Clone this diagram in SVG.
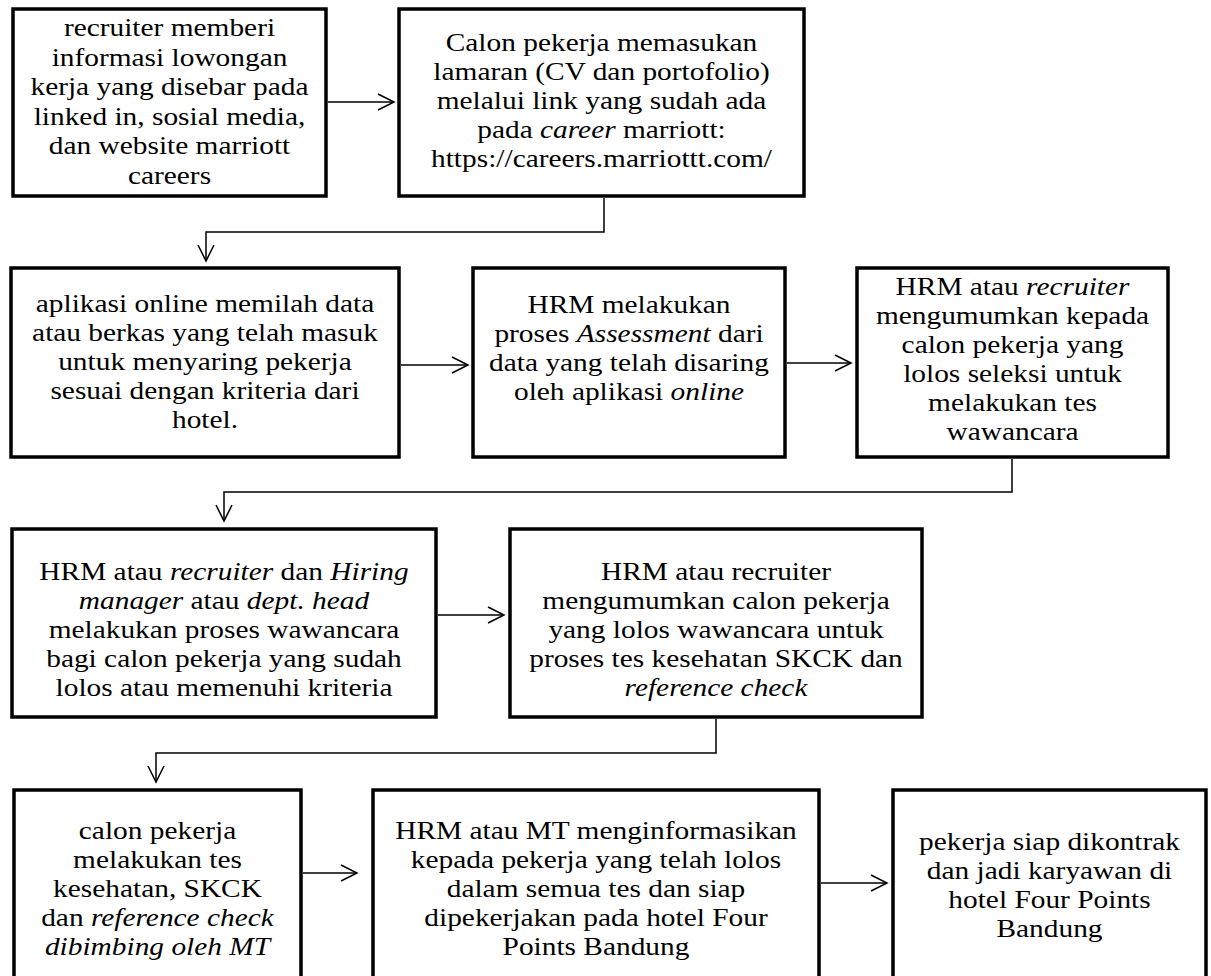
<svg xmlns="http://www.w3.org/2000/svg" width="1211" height="976" viewBox="0 0 1211 976">
<defs>
<style>
.box{fill:#fff;stroke:#000;stroke-width:3.5}
.t{font-family:"Liberation Serif","Times New Roman",serif;font-size:26px;fill:#000;text-anchor:middle}
.i{font-style:italic}
.c{fill:none;stroke:#000;stroke-width:1.5}
</style>
<marker id="ah" viewBox="0 0 20 20" refX="18" refY="10" markerWidth="20" markerHeight="20" markerUnits="userSpaceOnUse" orient="auto">
<path d="M2,2 L18,10 L2,18" fill="none" stroke="#000" stroke-width="1.5"/>
</marker>
</defs>
<rect width="1211" height="976" fill="#fff"/>
<g id="connectors">
<line class="c" x1="328" y1="102" x2="394" y2="102" marker-end="url(#ah)"/>
<polyline class="c" points="604,198 604,232 206,232 206,261" marker-end="url(#ah)"/>
<line class="c" x1="401" y1="365" x2="468" y2="365" marker-end="url(#ah)"/>
<line class="c" x1="787" y1="363" x2="851" y2="363" marker-end="url(#ah)"/>
<polyline class="c" points="1012,459 1012,492 224,492 224,521" marker-end="url(#ah)"/>
<line class="c" x1="438" y1="615" x2="504" y2="615" marker-end="url(#ah)"/>
<polyline class="c" points="716,719 716,753 156,753 156,782" marker-end="url(#ah)"/>
<line class="c" x1="303" y1="873" x2="357" y2="873" marker-end="url(#ah)"/>
<line class="c" x1="821" y1="883" x2="887" y2="883" marker-end="url(#ah)"/>
</g>
<g id="n1">
<rect class="box" x="13" y="9" width="313" height="187"/>
<g transform="translate(169.5 0) scale(1.13 1)">
<text class="t" x="0" y="36">recruiter memberi</text>
<text class="t" x="0" y="66">informasi lowongan</text>
<text class="t" x="0" y="95">kerja yang disebar pada</text>
<text class="t" x="0" y="125">linked in, sosial media,</text>
<text class="t" x="0" y="154">dan website marriott</text>
<text class="t" x="0" y="184">careers</text>
</g>
</g>
<g id="n2">
<rect class="box" x="399" y="9" width="405" height="187"/>
<g transform="translate(601.5 0) scale(1.13 1)">
<text class="t" x="0" y="51">Calon pekerja memasukan</text>
<text class="t" x="0" y="80">lamaran (CV dan portofolio)</text>
<text class="t" x="0" y="109">melalui link yang sudah ada</text>
<text class="t" x="0" y="138">pada <tspan class="i">career</tspan> marriott:</text>
<text class="t" x="0" y="167">https://careers.marriottt.com/</text>
</g>
</g>
<g id="n3">
<rect class="box" x="11" y="268" width="388" height="189"/>
<g transform="translate(205 0) scale(1.13 1)">
<text class="t" x="0" y="312">aplikasi online memilah data</text>
<text class="t" x="0" y="341">atau berkas yang telah masuk</text>
<text class="t" x="0" y="370">untuk menyaring pekerja</text>
<text class="t" x="0" y="399">sesuai dengan kriteria dari</text>
<text class="t" x="0" y="428">hotel.</text>
</g>
</g>
<g id="n4">
<rect class="box" x="473" y="268" width="312" height="189"/>
<g transform="translate(629 0) scale(1.13 1)">
<text class="t" x="0" y="313">HRM melakukan</text>
<text class="t" x="0" y="342">proses <tspan class="i">Assessment</tspan> dari</text>
<text class="t" x="0" y="371">data yang telah disaring</text>
<text class="t" x="0" y="400">oleh aplikasi <tspan class="i">online</tspan></text>
</g>
</g>
<g id="n5">
<rect class="box" x="857" y="268" width="311" height="189"/>
<g transform="translate(1012.5 0) scale(1.13 1)">
<text class="t" x="0" y="295">HRM atau <tspan class="i">recruiter</tspan></text>
<text class="t" x="0" y="324">mengumumkan kepada</text>
<text class="t" x="0" y="353">calon pekerja yang</text>
<text class="t" x="0" y="382">lolos seleksi untuk</text>
<text class="t" x="0" y="411">melakukan tes</text>
<text class="t" x="0" y="440">wawancara</text>
</g>
</g>
<g id="n6">
<rect class="box" x="12" y="529" width="424" height="188"/>
<g transform="translate(224 0) scale(1.13 1)">
<text class="t" x="0" y="580">HRM atau <tspan class="i">recruiter</tspan> dan <tspan class="i">Hiring</tspan></text>
<text class="t" x="0" y="609"><tspan class="i">manager</tspan> atau <tspan class="i">dept. head</tspan></text>
<text class="t" x="0" y="638">melakukan proses wawancara</text>
<text class="t" x="0" y="667">bagi calon pekerja yang sudah</text>
<text class="t" x="0" y="696">lolos atau memenuhi kriteria</text>
</g>
</g>
<g id="n7">
<rect class="box" x="510" y="529" width="412" height="188"/>
<g transform="translate(716 0) scale(1.13 1)">
<text class="t" x="0" y="580">HRM atau recruiter</text>
<text class="t" x="0" y="609">mengumumkan calon pekerja</text>
<text class="t" x="0" y="638">yang lolos wawancara untuk</text>
<text class="t" x="0" y="667">proses tes kesehatan SKCK dan</text>
<text class="t i" x="0" y="696">reference check</text>
</g>
</g>
<g id="n8">
<rect class="box" x="14" y="790" width="287" height="200"/>
<g transform="translate(157.5 0) scale(1.13 1)">
<text class="t" x="0" y="839">calon pekerja</text>
<text class="t" x="0" y="868">melakukan tes</text>
<text class="t" x="0" y="897">kesehatan, SKCK</text>
<text class="t" x="0" y="926">dan <tspan class="i">reference check</tspan></text>
<text class="t i" x="0" y="955">dibimbing oleh MT</text>
</g>
</g>
<g id="n9">
<rect class="box" x="373" y="790" width="446" height="200"/>
<g transform="translate(596 0) scale(1.13 1)">
<text class="t" x="0" y="839">HRM atau MT menginformasikan</text>
<text class="t" x="0" y="868">kepada pekerja yang telah lolos</text>
<text class="t" x="0" y="897">dalam semua tes dan siap</text>
<text class="t" x="0" y="926">dipekerjakan pada hotel Four</text>
<text class="t" x="0" y="955">Points Bandung</text>
</g>
</g>
<g id="n10">
<rect class="box" x="893" y="790" width="313" height="200"/>
<g transform="translate(1049.5 0) scale(1.13 1)">
<text class="t" x="0" y="850">pekerja siap dikontrak</text>
<text class="t" x="0" y="879">dan jadi karyawan di</text>
<text class="t" x="0" y="908">hotel Four Points</text>
<text class="t" x="0" y="937">Bandung</text>
</g>
</g>
</svg>
